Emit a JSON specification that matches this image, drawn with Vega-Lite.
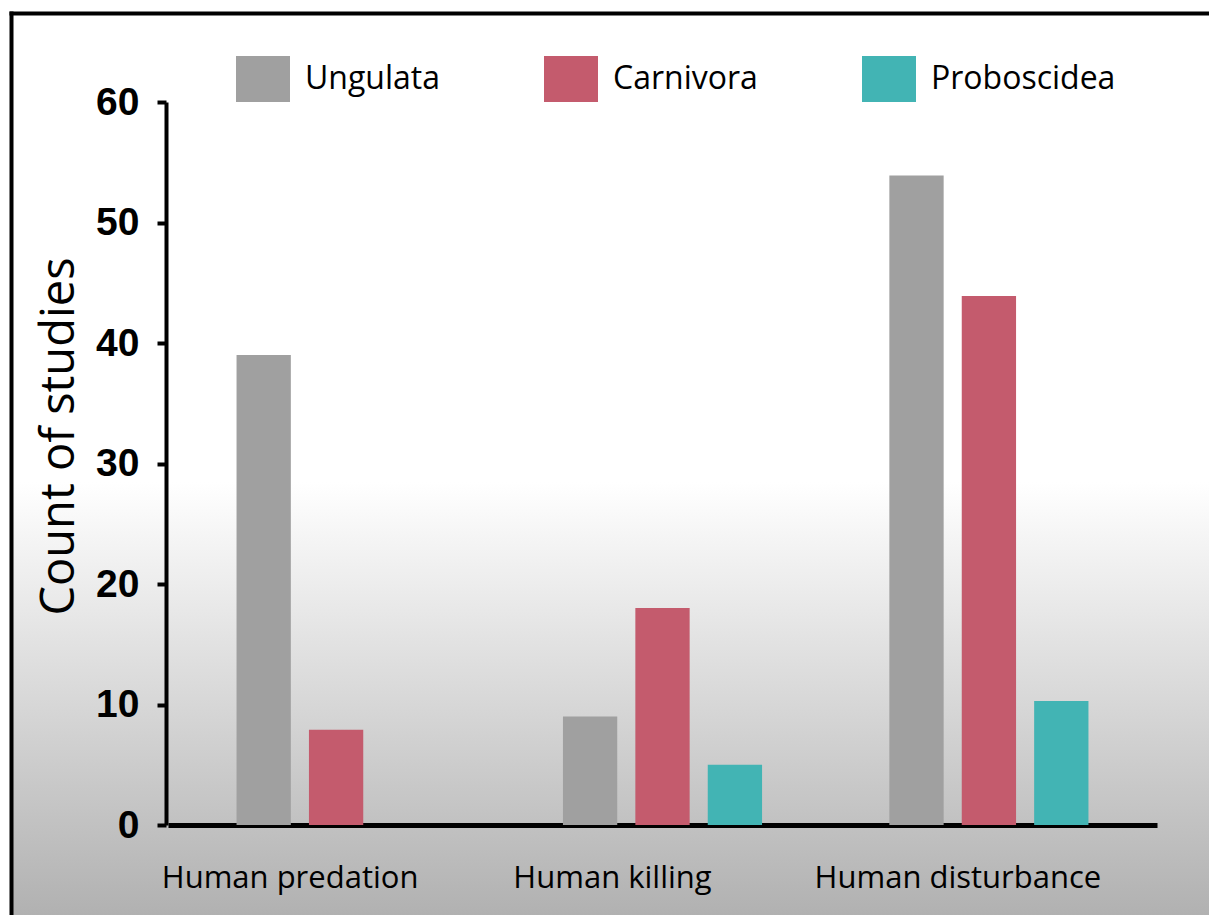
{
  "$schema": "https://vega.github.io/schema/vega-lite/v6.json",
  "autosize": "none",
  "padding": {"left": 11, "top": 13, "right": 0, "bottom": 0},
  "width": 1198,
  "height": 902,
  "background": "#ffffff",
  "view": {
    "stroke": null,
    "fill": {
      "gradient": "linear",
      "x1": 0, "y1": 0, "x2": 0, "y2": 1,
      "stops": [
        {"offset": 0, "color": "#ffffff"},
        {"offset": 0.52, "color": "#ffffff"},
        {"offset": 1, "color": "#b1b1b1"}
      ]
    }
  },
  "data": {
    "values": [
      {"threat": "Human predation", "order": "Ungulata", "count": 39},
      {"threat": "Human predation", "order": "Carnivora", "count": 7.9},
      {"threat": "Human killing", "order": "Ungulata", "count": 9},
      {"threat": "Human killing", "order": "Carnivora", "count": 18},
      {"threat": "Human killing", "order": "Proboscidea", "count": 5},
      {"threat": "Human disturbance", "order": "Ungulata", "count": 53.9},
      {"threat": "Human disturbance", "order": "Carnivora", "count": 43.9},
      {"threat": "Human disturbance", "order": "Proboscidea", "count": 10.3}
    ]
  },
  "layer": [
    {
      "mark": {"type": "bar"},
      "encoding": {
        "x": {
          "field": "threat",
          "type": "nominal",
          "sort": ["Human predation", "Human killing", "Human disturbance"],
          "scale": {"range": [157, 1146], "paddingInner": 0.39, "paddingOuter": 0.21},
          "axis": {
            "title": null,
            "orient": "bottom",
            "offset": -90,
            "domainColor": "#000000",
            "domainWidth": 5,
            "ticks": false,
            "tickSize": 0,
            "labelAngle": 0,
            "labelFont": "Open Sans",
            "labelFontSize": 31,
            "labelColor": "#000000",
            "labelBaseline": "alphabetic",
            "labelPadding": 62,
            "labelLimit": 400,
            "labelOffset": {
              "condition": [
                {"test": "datum.value === 'Human disturbance'", "value": -31},
                {"test": "datum.value === 'Human killing'", "value": -50}
              ],
              "value": -46
            }
          }
        },
        "xOffset": {
          "field": "order",
          "type": "nominal",
          "sort": ["Ungulata", "Carnivora", "Proboscidea"],
          "scale": {"domain": ["Ungulata", "Carnivora", "Proboscidea"], "paddingInner": 0.25, "paddingOuter": 0}
        },
        "y": {
          "field": "count",
          "type": "quantitative",
          "scale": {"domain": [0, 60], "range": [812, 89], "nice": false},
          "axis": {
            "title": "Count of studies",
            "orient": "left",
            "offset": -155,
            "values": [0, 10, 20, 30, 40, 50, 60],
            "grid": false,
            "domainColor": "#000000",
            "domainWidth": 4,
            "tickColor": "#000000",
            "tickWidth": 4,
            "tickSize": 9,
            "labelFont": "Liberation Sans",
            "labelFontWeight": "bold",
            "labelFontSize": 39,
            "labelColor": "#000000",
            "labelPadding": 18,
            "labelBaseline": "middle",
            "titleFont": "Open Sans",
            "titleFontWeight": "normal",
            "titleFontSize": 47,
            "titleColor": "#000000",
            "titleAngle": -90,
            "titleBaseline": "alphabetic",
            "titleAlign": "center",
            "titleX": -93,
            "titleY": 423
          }
        },
        "color": {
          "field": "order",
          "type": "nominal",
          "scale": {"domain": ["Ungulata", "Carnivora", "Proboscidea"], "range": ["#a0a0a0", "#c45b6d", "#42b4b4"]},
          "legend": {
            "title": null,
            "orient": "none",
            "direction": "horizontal",
            "legendX": 225,
            "legendY": 39,
            "padding": 0,
            "symbolType": "M-1,-0.85H1V0.85H-1Z",
            "symbolSize": 2916,
            "symbolStrokeWidth": 0,
            "symbolOpacity": 1,
            "labelFont": "Open Sans",
            "labelFontSize": 32,
            "labelColor": "#000000",
            "labelOffset": 15,
            "labelLimit": 400,
            "columnPadding": 104
          }
        }
      }
    },
    {
      "mark": {"type": "point", "opacity": 0},
      "encoding": {
        "x": {
          "field": "threat",
          "type": "nominal",
          "scale": {"range": [0, 1198]},
          "axis": {
            "orient": "top",
            "offset": 0,
            "title": null,
            "labels": false,
            "ticks": false,
            "grid": false,
            "domainColor": "#000000",
            "domainWidth": 4,
            "domainCap": "square"
          }
        },
        "y": {
          "field": "count",
          "type": "quantitative",
          "scale": {"domain": [0, 60], "range": [902, 0], "nice": false},
          "axis": {
            "orient": "left",
            "offset": 0,
            "title": null,
            "labels": false,
            "ticks": false,
            "grid": false,
            "domainColor": "#000000",
            "domainWidth": 4,
            "domainCap": "square"
          }
        }
      }
    }
  ],
  "resolve": {
    "scale": {"x": "independent", "y": "independent"},
    "axis": {"x": "independent", "y": "independent"}
  }
}
